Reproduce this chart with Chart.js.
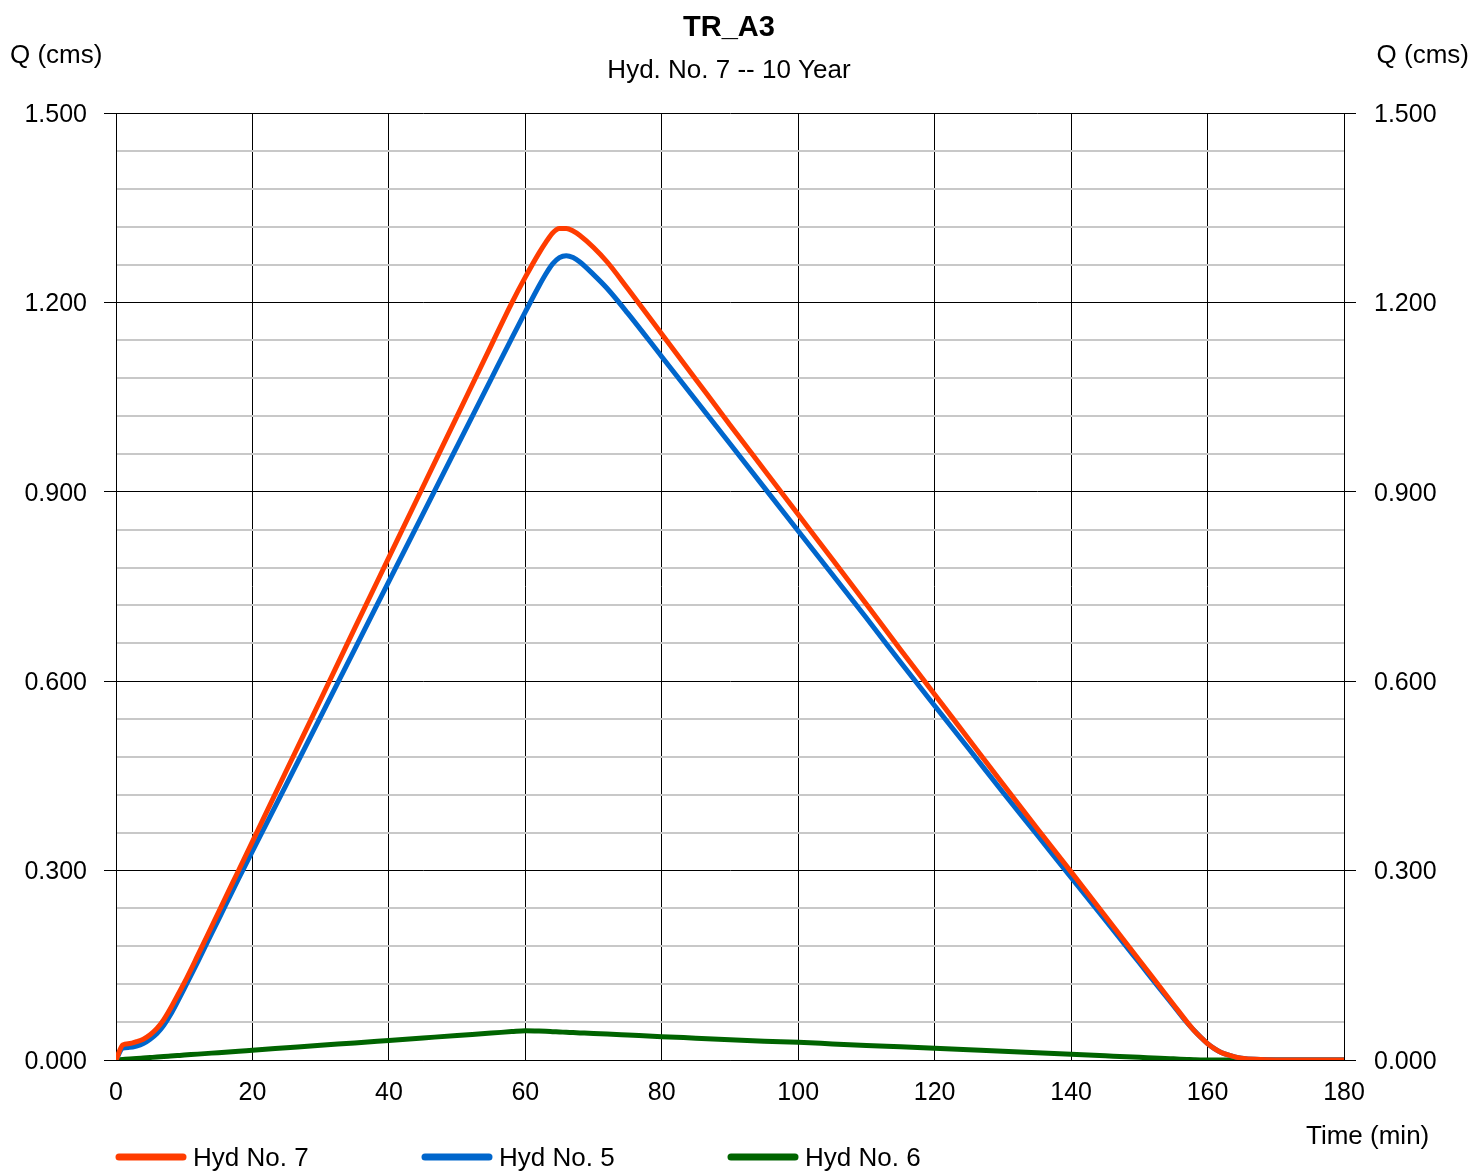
<!DOCTYPE html>
<html>
<head>
<meta charset="utf-8">
<title>TR_A3</title>
<script src="https://cdn.jsdelivr.net/npm/chart.js@4.4.1/dist/chart.umd.min.js"></script>
<style>
  html, body { margin:0; padding:0; background:#fff; }
  canvas { display:block; }
</style>
</head>
<body>
<canvas id="hydChart" width="1472" height="1171"></canvas>
<script>
// time (min)
const times = [0, 1, 2, 3, 4, 5, 6, 7, 8, 9, 10, 12, 14, 16, 18, 20, 25, 30, 35, 40, 45, 50, 55, 58, 60,
  62, 63, 64, 65, 66, 67, 68, 70, 72, 75, 80, 85, 90, 95, 100, 105, 110, 115, 120, 125, 130, 135, 140,
  145, 150, 153, 155, 157, 158, 159, 160, 161, 162, 163, 164, 165, 167, 170, 175, 180];

// Q (cms)
const hyd7 = [0, 0.024, 0.026, 0.029, 0.033, 0.040, 0.050, 0.064, 0.082, 0.102, 0.122, 0.166, 0.211, 0.256, 0.301, 0.346, 0.459, 0.571, 0.684, 0.796, 0.908, 1.020, 1.132, 1.199, 1.240,
  1.278, 1.295, 1.310, 1.317, 1.317, 1.313, 1.306, 1.287, 1.264, 1.222, 1.150, 1.078, 1.006, 0.935, 0.864, 0.793, 0.722, 0.650, 0.579, 0.508, 0.437, 0.367, 0.298,
  0.228, 0.158, 0.116, 0.088, 0.060, 0.047, 0.036, 0.026, 0.018, 0.012, 0.008, 0.005, 0.003, 0.001, 0, 0, 0];

const hyd5 = [0, 0.019, 0.020, 0.022, 0.026, 0.033, 0.042, 0.055, 0.072, 0.092, 0.113, 0.156, 0.200, 0.244, 0.288, 0.331, 0.437, 0.544, 0.651, 0.758, 0.865, 0.972, 1.079, 1.143, 1.185,
  1.226, 1.245, 1.261, 1.271, 1.274, 1.271, 1.264, 1.244, 1.222, 1.183, 1.114, 1.045, 0.976, 0.907, 0.838, 0.769, 0.700, 0.630, 0.561, 0.493, 0.424, 0.357, 0.289,
  0.222, 0.154, 0.113, 0.086, 0.059, 0.047, 0.036, 0.026, 0.018, 0.012, 0.008, 0.005, 0.003, 0.001, 0, 0, 0];

const hyd6 = [0, 0.0008, 0.0016, 0.0023, 0.0031, 0.0039, 0.0047, 0.0054, 0.0062, 0.007, 0.0078, 0.0093, 0.0109, 0.0124, 0.014, 0.0155, 0.0194, 0.0233, 0.0271, 0.031, 0.0349, 0.0388, 0.0426, 0.045, 0.0465,
  0.0458, 0.0454, 0.0449, 0.0444, 0.0439, 0.0434, 0.0429, 0.0419, 0.041, 0.0395, 0.037, 0.0346, 0.0322, 0.0298, 0.028, 0.0255, 0.023, 0.0208, 0.0185, 0.0161, 0.0137, 0.0114, 0.009,
  0.0066, 0.0042, 0.0028, 0.0018, 0.0008, 0.0003, 0, 0, 0, 0, 0, 0, 0, 0, 0, 0, 0];

const seriesNames = ['Hyd No. 7', 'Hyd No. 5', 'Hyd No. 6'];
const seriesColors = ['#ff3c00', '#0066cc', '#006400'];

const xTicks = [0, 20, 40, 60, 80, 100, 120, 140, 160, 180];
const yMajorStep = 0.3;
const yMinorStep = 0.06;

const FONT = "'Liberation Sans', Arial, sans-serif";

function pts(vals){ return times.map((t, i) => ({ x: t, y: vals[i] })); }

function isMajor(v){ const r = v / yMajorStep; return Math.abs(r - Math.round(r)) < 1e-6; }

// titles, axis captions and legend drawn straight on the canvas
const sheetText = {
  id: 'sheetText',
  afterDraw(chart){
    const c = chart.ctx;
    c.save();
    c.fillStyle = '#000';
    c.textBaseline = 'middle';
    c.textAlign = 'center';
    c.font = 'bold 29px ' + FONT;
    c.fillText('TR_A3', 729, 28);
    c.font = '26px ' + FONT;
    c.fillText('Hyd. No. 7 -- 10 Year', 729, 71);
    c.textAlign = 'left';
    c.fillText('Q (cms)', 10, 56);
    c.fillText('Time (min)', 1306, 1137);
    c.textAlign = 'right';
    c.fillText('Q (cms)', 1469, 56);

    const legX = [116, 422, 728];
    c.textAlign = 'left';
    c.lineCap = 'round';
    c.lineWidth = 7;
    seriesNames.forEach((name, i) => {
      c.strokeStyle = seriesColors[i];
      c.beginPath();
      c.moveTo(legX[i] + 3, 1157);
      c.lineTo(legX[i] + 67, 1157);
      c.stroke();
      c.fillText(name, legX[i] + 77, 1159);
    });
    c.restore();
  }
};

const yGrid = {
  color: ctx => isMajor(ctx.tick.value) ? '#000' : '#c8c8c8',
  lineWidth: ctx => isMajor(ctx.tick.value) ? 1 : 2,
  tickColor: ctx => isMajor(ctx.tick.value) ? '#000' : 'rgba(0,0,0,0)',
  tickWidth: 1,
  tickLength: 12
};

new Chart(document.getElementById('hydChart'), {
  type: 'line',
  data: {
    datasets: [
      { label: seriesNames[0], data: pts(hyd7), borderColor: seriesColors[0], borderWidth: 5, cubicInterpolationMode: 'monotone' },
      { label: seriesNames[1], data: pts(hyd5), borderColor: seriesColors[1], borderWidth: 5, cubicInterpolationMode: 'monotone' },
      { label: seriesNames[2], data: pts(hyd6), borderColor: seriesColors[2], borderWidth: 5, cubicInterpolationMode: 'monotone' }
    ]
  },
  options: {
    responsive: false,
    animation: false,
    layout: { padding: { top: 113, left: 0, right: 0, bottom: 0 } },
    elements: { point: { radius: 0 }, line: { borderCapStyle: 'round', borderJoinStyle: 'round' } },
    plugins: { legend: { display: false }, title: { display: false }, tooltip: { enabled: false } },
    scales: {
      x: {
        type: 'linear', min: 0, max: 180,
        afterBuildTicks: s => { s.ticks = xTicks.map(v => ({ value: v })); },
        afterFit: s => { s.height = 111; },
        grid: { color: '#000', lineWidth: 1, drawTicks: false },
        border: { color: '#000' },
        ticks: { color: '#000', font: { family: FONT, size: 25 }, padding: 18, maxRotation: 0 }
      },
      y: {
        position: 'left', min: 0, max: 1.5,
        afterFit: s => { s.width = 116; },
        grid: yGrid,
        border: { color: '#000' },
        ticks: {
          stepSize: yMinorStep, autoSkip: false, color: '#000', padding: 17, labelOffset: 2,
          font: { family: FONT, size: 25 },
          callback: v => isMajor(v) ? v.toFixed(3) : ''
        }
      },
      y2: {
        position: 'right', min: 0, max: 1.5,
        afterFit: s => { s.width = 128; },
        grid: Object.assign({}, yGrid, { drawOnChartArea: false }),
        border: { color: '#000' },
        ticks: {
          stepSize: yMinorStep, autoSkip: false, color: '#000', padding: 18, labelOffset: 2,
          font: { family: FONT, size: 25 },
          callback: v => isMajor(v) ? v.toFixed(3) : ''
        }
      }
    }
  },
  plugins: [sheetText]
});
</script>
</body>
</html>
